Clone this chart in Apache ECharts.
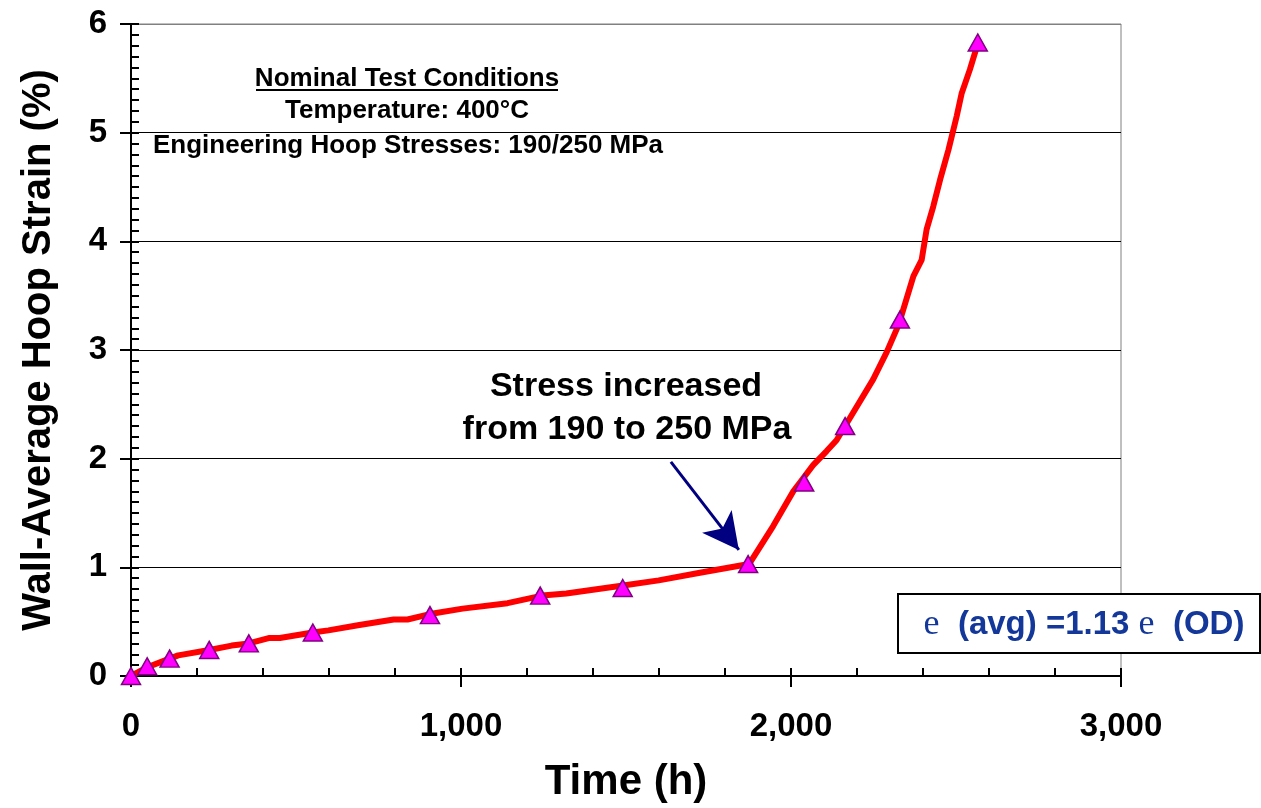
<!DOCTYPE html>
<html>
<head>
<meta charset="utf-8">
<title>Wall-Average Hoop Strain vs Time</title>
<script src="https://cdn.jsdelivr.net/npm/echarts@6/dist/echarts.min.js"></script>
<style>
  html, body { margin: 0; padding: 0; background: #ffffff; }
  #chart { width: 1261px; height: 808px; }
</style>
</head>
<body>
<div id="chart"></div>
<script>
// Strain history: continuous trace (time in h, strain in %)
const curveTime = [0, 49, 117, 143, 237, 305, 357, 420, 451, 551, 598, 692, 796, 838, 906,
  1005, 1141, 1246, 1319, 1486, 1599, 1724, 1873, 1946, 2007, 2037, 2067, 2108, 2138, 2164,
  2249, 2290, 2320, 2330, 2371, 2396, 2411, 2431, 2452, 2477, 2502, 2517, 2542, 2566];
const curveStrain = [0.00, 0.08, 0.16, 0.19, 0.24, 0.28, 0.30, 0.35, 0.35, 0.40, 0.42, 0.47, 0.52, 0.52, 0.57,
  0.62, 0.67, 0.74, 0.76, 0.83, 0.88, 0.95, 1.03, 1.38, 1.70, 1.82, 1.94, 2.07, 2.17, 2.30,
  2.73, 2.98, 3.19, 3.27, 3.68, 3.83, 4.11, 4.32, 4.57, 4.84, 5.15, 5.36, 5.58, 5.82];

// Measurement points (triangles)
const pointTime = [0, 49, 117, 237, 357, 551, 906, 1240, 1490, 1870, 2040, 2164, 2330, 2566];
const pointStrain = [0.00, 0.09, 0.16, 0.24, 0.30, 0.40, 0.56, 0.74, 0.81, 1.03, 1.78, 2.30, 3.28, 5.83];

// Axis ranges and tick labels
const xTicks = [0, 1000, 2000, 3000];
const xTickLabels = ['0', '1,000', '2,000', '3,000'];
const yTicks = [0, 1, 2, 3, 4, 5, 6];

// Annotation arrow: from the note towards the stress change
const arrowFrom = [1636, 1.97];
const arrowTo = [1842, 1.16];

const FONT = "'Liberation Sans', Arial, sans-serif";

const curveData = curveTime.map((t, i) => [t, curveStrain[i]]);
const pointData = pointTime.map((t, i) => [t, pointStrain[i]]);

const chart = echarts.init(document.getElementById('chart'), null, { renderer: 'canvas' });

const gridLineColors = yTicks.map((v, i) => (i === yTicks.length - 1 ? '#808080' : '#000000'));

const option = {
  backgroundColor: '#ffffff',
  animation: false,
  grid: {
    left: 131, right: 140, top: 24, bottom: 130,
    show: true, borderColor: '#808080', borderWidth: 1, backgroundColor: 'transparent'
  },
  xAxis: [
    {
      type: 'value', min: xTicks[0], max: xTicks[xTicks.length - 1], interval: 1000,
      name: 'Time (h)', nameLocation: 'middle', nameGap: 85,
      nameTextStyle: { fontFamily: FONT, fontWeight: 'bold', fontSize: 42, color: '#000' },
      axisLine: { show: true, lineStyle: { color: '#000', width: 2 } },
      axisTick: { show: true, inside: true, length: 8, lineStyle: { color: '#000', width: 2 } },
      minorTick: { show: true, splitNumber: 5, length: 8, lineStyle: { color: '#000', width: 2 } },
      splitLine: { show: false },
      axisLabel: {
        margin: 34, fontFamily: FONT, fontWeight: 'bold', fontSize: 33, color: '#000',
        formatter: v => xTickLabels[xTicks.indexOf(v)]
      }
    },
    {
      // outward half of the major tick marks
      type: 'value', min: xTicks[0], max: xTicks[xTicks.length - 1], interval: 1000,
      position: 'bottom',
      axisLine: { show: false },
      axisTick: { show: true, inside: false, length: 11, lineStyle: { color: '#000', width: 2 } },
      axisLabel: { show: false }, splitLine: { show: false }
    }
  ],
  yAxis: [
    {
      type: 'value', min: yTicks[0], max: yTicks[yTicks.length - 1], interval: 1,
      name: 'Wall-Average Hoop Strain (%)', nameLocation: 'middle', nameGap: 72,
      nameTextStyle: { fontFamily: FONT, fontWeight: 'bold', fontSize: 40, color: '#000' },
      axisLine: { show: true, lineStyle: { color: '#000', width: 2 } },
      axisTick: { show: true, inside: true, length: 8, lineStyle: { color: '#000', width: 2 } },
      minorTick: { show: true, splitNumber: 10, length: 8, lineStyle: { color: '#000', width: 2 } },
      splitLine: { show: true, lineStyle: { color: gridLineColors, width: 1 } },
      axisLabel: { margin: 24, fontFamily: FONT, fontWeight: 'bold', fontSize: 33, color: '#000' }
    },
    {
      type: 'value', min: yTicks[0], max: yTicks[yTicks.length - 1], interval: 1,
      position: 'left',
      axisLine: { show: false },
      axisTick: { show: true, inside: false, length: 11, lineStyle: { color: '#000', width: 2 } },
      axisLabel: { show: false }, splitLine: { show: false }
    }
  ],
  series: [
    {
      type: 'line', data: curveData, showSymbol: false, symbol: 'none',
      lineStyle: { color: '#ff0000', width: 6, join: 'round', cap: 'round' },
      z: 3, clip: false, silent: true
    },
    {
      type: 'scatter', data: pointData, symbol: 'triangle', symbolSize: [19, 17],
      itemStyle: { color: '#ff00ff', borderColor: '#800080', borderWidth: 1.5, opacity: 1 },
      z: 4, clip: false, silent: true,
      markLine: {
        silent: true, animation: false,
        symbol: ['none', 'arrow'], symbolSize: [28, 36],
        label: { show: false },
        lineStyle: { color: '#000080', width: 3, type: 'solid' },
        data: [[{ coord: arrowFrom }, { coord: arrowTo }]]
      }
    }
  ],
  graphic: [
    {
      type: 'text',
      style: {
        x: 407, y: 79, text: 'Nominal Test Conditions', align: 'center', verticalAlign: 'middle',
        font: "bold 26px 'Liberation Sans', Arial, sans-serif", fill: '#000'
      }
    },
    {
      type: 'line', shape: { x1: 256, y1: 90, x2: 558, y2: 90 },
      style: { stroke: '#000', lineWidth: 2 }
    },
    {
      type: 'text',
      style: {
        x: 407, y: 111, text: 'Temperature: 400°C', align: 'center', verticalAlign: 'middle',
        font: "bold 26px 'Liberation Sans', Arial, sans-serif", fill: '#000'
      }
    },
    {
      type: 'text',
      style: {
        x: 408, y: 146, text: 'Engineering Hoop Stresses: 190/250 MPa', align: 'center', verticalAlign: 'middle',
        font: "bold 26px 'Liberation Sans', Arial, sans-serif", fill: '#000'
      }
    },
    {
      type: 'text',
      style: {
        x: 626, y: 387, text: 'Stress increased', align: 'center', verticalAlign: 'middle',
        font: "bold 34px 'Liberation Sans', Arial, sans-serif", fill: '#000'
      }
    },
    {
      type: 'text',
      style: {
        x: 627, y: 430, text: 'from 190 to 250 MPa', align: 'center', verticalAlign: 'middle',
        font: "bold 34px 'Liberation Sans', Arial, sans-serif", fill: '#000'
      }
    },
    {
      type: 'rect', z: 10,
      shape: { x: 898, y: 594, width: 362, height: 59 },
      style: { fill: '#ffffff', stroke: '#000', lineWidth: 2 }
    },
    {
      type: 'text', z: 11,
      style: {
        x: 1084, y: 625, align: 'center', verticalAlign: 'middle',
        text: '{e|e}{t|  (avg) =1.13 }{e|e}{t|  (OD)}',
        rich: {
          e: { fontFamily: "'Liberation Serif', 'Times New Roman', serif", fontSize: 36, fill: '#13389a', fontWeight: 'normal' },
          t: { fontFamily: FONT, fontSize: 33, fontWeight: 'bold', fill: '#13389a' }
        }
      }
    }
  ]
};

chart.setOption(option);
</script>
</body>
</html>
